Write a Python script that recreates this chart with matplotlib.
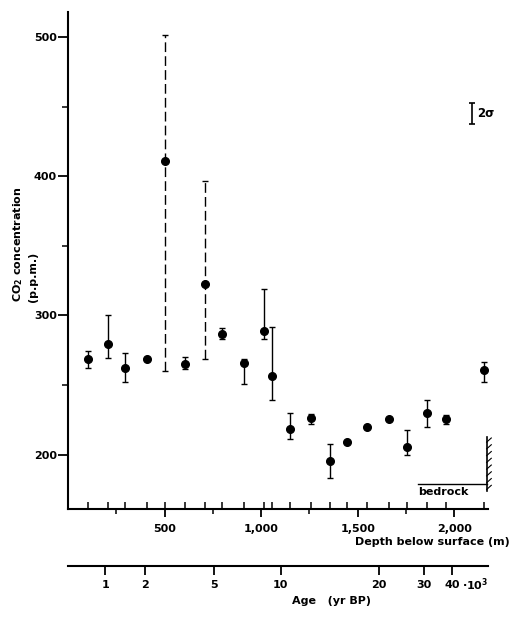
import numpy as np
import matplotlib
matplotlib.use('Agg')
import matplotlib.pyplot as plt

plt.rcParams['font.family'] = ['DejaVu Sans']
plt.rcParams['font.weight'] = 'bold'

nan = np.nan

# samples: depth (m), CO2 (ppm), error bar bottom / top (ppm)
depth = [106, 207, 293, 409, 505, 605, 707, 797, 912, 1017, 1058,
         1150, 1259, 1357, 1445, 1550, 1662, 1754, 1860, 1957, 2154]
co2 = [268.8, 279.5, 262.2, 269.0, 411.2, 265.5, 322.4, 286.8, 265.8, 288.5, 256.7,
       218.7, 226.3, 195.2, 208.8, 219.6, 225.8, 205.2, 229.6, 225.6, 261.0]
co2_low = [262.5, 269.4, 252.0, nan, 260.2, 261.9, 268.8, 283.0, 250.8, 283.2, 239.5,
           211.3, 222.0, 183.0, nan, nan, nan, 200.0, 219.9, 222.3, 251.9]
co2_high = [274.5, 300.5, 273.2, nan, 501.4, 270.4, 396.7, 291.0, 269.0, 319.3, 291.7,
            229.7, 229.3, 207.9, nan, nan, nan, 218.0, 239.5, 228.7, 266.5]
dashed_depths = [505, 707]

# age scale (10^3 yr BP) and the depth where each age tick sits
age_labels = ['1', '2', '5', '10', '20', '30', '40']
age_depths = [193, 400, 757, 1102, 1610, 1843, 1990]

# 2 sigma scale bar and bedrock marker
sigma_x, sigma_mid, sigma_half = 2092, 445, 7.5
bedrock_ppm, bedrock_from, bedrock_depth = 179.2, 1812, 2168
bedrock_top, bedrock_bottom = 213, 174

d = np.array(depth, dtype=float)
v = np.array(co2)
lo = np.array(co2_low)
hi = np.array(co2_high)
yerr = np.vstack([v - lo, hi - v])
dash = np.isin(d, dashed_depths)

fig = plt.figure(figsize=(5.29, 6.22), dpi=100)
ax = fig.add_axes([0.1285, 0.1817, 0.794, 0.799])
ax.set_xlim(0, 2175)
ax.set_ylim(161, 518)

for s in ['top', 'right']:
    ax.spines[s].set_visible(False)
for s in ['left', 'bottom']:
    ax.spines[s].set_linewidth(1.5)

ax.set_yticks([200, 300, 400, 500])
ax.set_yticks([250, 350, 450], minor=True)
ax.tick_params(axis='y', which='major', direction='out', length=7, width=1.3, pad=1, labelsize=8)
ax.tick_params(axis='y', which='minor', direction='out', length=4, width=1.1)

ax.set_xticks([500, 1000, 1500, 2000], labels=['500', '1,000', '1,500', '2,000'])
ax.set_xticks([250, 750, 1250, 1750], minor=True)
ax.tick_params(axis='x', which='major', direction='out', length=6, width=1.3, pad=5, labelsize=8)
ax.tick_params(axis='x', which='minor', direction='out', length=3.5, width=1.1)

# upward ticks at the sample depths
sec = ax.secondary_xaxis('bottom')
sec.set_xticks(depth)
sec.tick_params(direction='in', length=5, width=1.1, labelbottom=False)
sec.spines['bottom'].set_visible(False)

# data points
eb = ax.errorbar(d[~dash], v[~dash], yerr=yerr[:, ~dash], fmt='o', color='black',
                 ms=5.5, elinewidth=1.0, capsize=2.5, capthick=1.0)
eb2 = ax.errorbar(d[dash], v[dash], yerr=yerr[:, dash], fmt='o', color='black',
                  ms=5.5, elinewidth=1.0, capsize=2.5, capthick=1.0)
eb2[2][0].set_linestyle((0, (7, 3)))

# 2 sigma bar
ax.errorbar([sigma_x], [sigma_mid], yerr=sigma_half, fmt='none', color='black',
            elinewidth=1.2, capsize=2.5, capthick=1.2)
ax.text(sigma_x + 28, sigma_mid, '2σ', fontsize=8.5, ha='left', va='center')

# bedrock
ax.plot([bedrock_from, bedrock_depth], [bedrock_ppm, bedrock_ppm], color='black', lw=1.0,
        clip_on=False)
ax.plot([bedrock_depth, bedrock_depth], [bedrock_bottom, bedrock_top], color='black', lw=1.2,
        clip_on=False)
for yy in np.linspace(bedrock_bottom + 1, bedrock_top - 4, 8):
    ax.plot([bedrock_depth, bedrock_depth + 24], [yy, yy + 3.0], color='black', lw=0.8,
            clip_on=False)
ax.text(bedrock_from, 173, 'bedrock', fontsize=8, ha='left', va='center')

# axis labels
fig.text(0.964, 0.1286, 'Depth below surface (m)', fontsize=8, ha='right', va='center')
fig.text(0.034, 0.5145, 'CO$_2$ concentration', fontsize=8, rotation=90, ha='center', va='bottom')
fig.text(0.063, 0.5145, '(p.p.m.)', fontsize=8, rotation=90, ha='center', va='bottom')

# age axis
ax2 = fig.add_axes([0.1285, 0.0905, 0.794, 0.001])
ax2.set_xlim(ax.get_xlim())
ax2.set_yticks([])
for s in ['top', 'right', 'left']:
    ax2.spines[s].set_visible(False)
ax2.spines['bottom'].set_linewidth(1.5)
ax2.patch.set_visible(False)
ax2.set_xticks(age_depths, labels=age_labels)
ax2.tick_params(axis='x', direction='out', length=6.5, width=1.3, pad=4, labelsize=8)
fig.text(462 / 529, 1 - 585 / 622, '·10$^3$', fontsize=8, ha='left', va='center')
fig.text(0.626, 0.034, 'Age   (yr BP)', fontsize=8, ha='center', va='center')

fig.savefig('out.png', dpi=100)
